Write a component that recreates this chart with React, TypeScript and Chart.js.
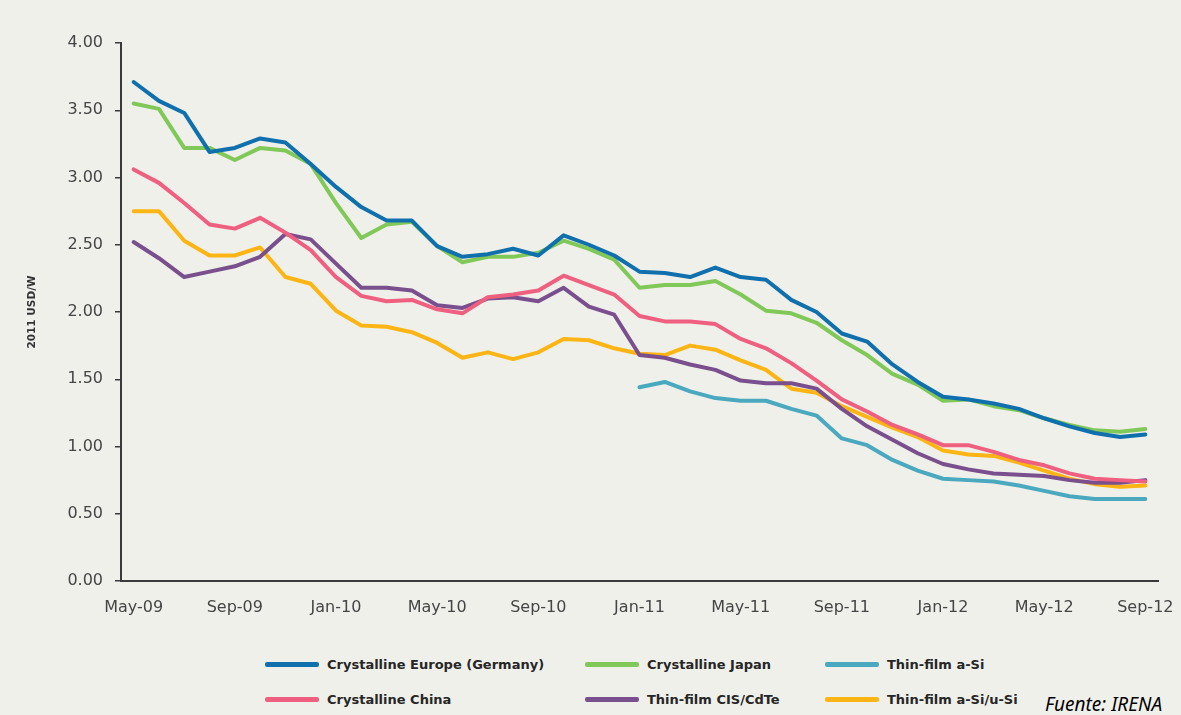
import React, { useEffect, useRef } from "react";
import { Chart, registerables } from "chart.js";

Chart.register(...registerables);

const months = [
  "May-09", "Jun-09", "Jul-09", "Aug-09", "Sep-09", "Oct-09", "Nov-09", "Dec-09",
  "Jan-10", "Feb-10", "Mar-10", "Apr-10", "May-10", "Jun-10", "Jul-10", "Aug-10",
  "Sep-10", "Oct-10", "Nov-10", "Dec-10", "Jan-11", "Feb-11", "Mar-11", "Apr-11",
  "May-11", "Jun-11", "Jul-11", "Aug-11", "Sep-11", "Oct-11", "Nov-11", "Dec-11",
  "Jan-12", "Feb-12", "Mar-12", "Apr-12", "May-12", "Jun-12", "Jul-12", "Aug-12", "Sep-12",
];

const crystallineEurope = [
  3.71, 3.57, 3.48, 3.19, 3.22, 3.29, 3.26, 3.10, 2.93, 2.78, 2.68, 2.68, 2.49, 2.41, 2.43, 2.47,
  2.42, 2.57, 2.50, 2.42, 2.30, 2.29, 2.26, 2.33, 2.26, 2.24, 2.09, 2.00, 1.84, 1.78, 1.61, 1.48,
  1.37, 1.35, 1.32, 1.28, 1.21, 1.15, 1.10, 1.07, 1.09,
];
const crystallineJapan = [
  3.55, 3.51, 3.22, 3.22, 3.13, 3.22, 3.20, 3.10, 2.81, 2.55, 2.65, 2.67, 2.49, 2.37, 2.41, 2.41,
  2.44, 2.53, 2.47, 2.39, 2.18, 2.20, 2.20, 2.23, 2.13, 2.01, 1.99, 1.92, 1.79, 1.68, 1.54, 1.46,
  1.34, 1.35, 1.30, 1.27, 1.21, 1.16, 1.12, 1.11, 1.13,
];
const thinFilmASi = [
  null, null, null, null, null, null, null, null, null, null, null, null, null, null, null, null,
  null, null, null, null, 1.44, 1.48, 1.41, 1.36, 1.34, 1.34, 1.28, 1.23, 1.06, 1.01, 0.90, 0.82,
  0.76, 0.75, 0.74, 0.71, 0.67, 0.63, 0.61, 0.61, 0.61,
];
const crystallineChina = [
  3.06, 2.96, 2.81, 2.65, 2.62, 2.70, 2.59, 2.46, 2.26, 2.12, 2.08, 2.09, 2.02, 1.99, 2.11, 2.13,
  2.16, 2.27, 2.20, 2.13, 1.97, 1.93, 1.93, 1.91, 1.80, 1.73, 1.62, 1.49, 1.35, 1.26, 1.16, 1.09,
  1.01, 1.01, 0.96, 0.90, 0.86, 0.80, 0.76, 0.75, 0.74,
];
const thinFilmCIS = [
  2.52, 2.40, 2.26, 2.30, 2.34, 2.41, 2.58, 2.54, 2.36, 2.18, 2.18, 2.16, 2.05, 2.03, 2.10, 2.11,
  2.08, 2.18, 2.04, 1.98, 1.68, 1.66, 1.61, 1.57, 1.49, 1.47, 1.47, 1.43, 1.28, 1.15, 1.05, 0.95,
  0.87, 0.83, 0.80, 0.79, 0.78, 0.75, 0.73, 0.73, 0.75,
];
const thinFilmASiUSi = [
  2.75, 2.75, 2.53, 2.42, 2.42, 2.48, 2.26, 2.21, 2.01, 1.90, 1.89, 1.85, 1.77, 1.66, 1.70, 1.65,
  1.70, 1.80, 1.79, 1.73, 1.69, 1.68, 1.75, 1.72, 1.64, 1.57, 1.43, 1.40, 1.30, 1.22, 1.14, 1.07,
  0.97, 0.94, 0.93, 0.88, 0.82, 0.76, 0.72, 0.70, 0.71,
];

const seriesLabels = [
  "Crystalline Europe (Germany)",
  "Crystalline Japan",
  "Thin-film a-Si",
  "Crystalline China",
  "Thin-film CIS/CdTe",
  "Thin-film a-Si/u-Si",
];
const seriesData = [crystallineEurope, crystallineJapan, thinFilmASi, crystallineChina, thinFilmCIS, thinFilmASiUSi];
const seriesColors = ["#1070ad", "#80c857", "#4aa9bf", "#ef5f7f", "#7a4f8d", "#fdb515"];

const yTitle = "2011 USD/W";
const sourceNote = "Fuente: IRENA";

const BG = "#f0f0eb";
const FONT = "DejaVu Sans";

export default function App() {
  const canvasRef = useRef<HTMLCanvasElement | null>(null);

  useEffect(() => {
    const canvas = canvasRef.current;
    if (!canvas) return;
    const chart = new Chart(canvas, {
      type: "line",
      data: {
        labels: months,
        datasets: seriesLabels.map((label, i) => ({
          label,
          data: seriesData[i],
          borderColor: seriesColors[i],
          backgroundColor: seriesColors[i],
          borderWidth: 4,
          pointRadius: 0,
          tension: 0,
          borderJoinStyle: "round" as const,
          borderCapStyle: "round" as const,
          spanGaps: false,
        })),
      },
      options: {
        responsive: false,
        animation: false,
        layout: { padding: { left: 0, right: 23, top: 43, bottom: 0 } },
        plugins: {
          legend: { display: false },
          tooltip: { enabled: false },
        },
        scales: {
          x: {
            type: "category",
            offset: true,
            grid: { display: false, drawTicks: false },
            border: { display: true, color: "#3a3a3a", width: 2 },
            ticks: {
              autoSkip: false,
              maxRotation: 0,
              minRotation: 0,
              padding: 17,
              color: "#454545",
              font: { family: FONT, size: 16 },
              callback: (_v: any, i: number) => (i % 4 === 0 ? months[i] : ""),
            },
            afterFit: (scale: any) => {
              scale.height = 39;
              scale.paddingLeft = 0;
              scale.paddingRight = 0;
            },
          },
          y: {
            min: 0,
            max: 4,
            grid: {
              display: true,
              drawOnChartArea: false,
              drawTicks: true,
              tickLength: 6,
              color: "#3a3a3a",
              lineWidth: 1.5,
            },
            border: { display: true, color: "#3a3a3a", width: 2 },
            ticks: {
              stepSize: 0.5,
              padding: 12,
              color: "#454545",
              font: { family: FONT, size: 16 },
              callback: (v: any) => Number(v).toFixed(2),
            },
            title: {
              display: true,
              text: yTitle,
              color: "#333",
              font: { family: FONT, size: 10.5, weight: "bold" },
              padding: { top: 26, bottom: 0 },
            },
            afterFit: (scale: any) => {
              scale.width = 121;
              scale.paddingTop = 0;
              scale.paddingBottom = 0;
            },
          },
        },
      },
    });
    return () => chart.destroy();
  }, []);

  const legendCols = [265, 585, 825];
  const legendRows = [664, 699];

  return (
    <div
      style={{
        position: "absolute",
        left: 0,
        top: 0,
        width: 1181,
        height: 715,
        background: BG,
        overflow: "hidden",
      }}
    >
      <canvas
        ref={canvasRef}
        width={1181}
        height={620}
        style={{ position: "absolute", left: 0, top: 0, width: 1181, height: 620 }}
      />
      {seriesLabels.map((label, i) => {
        const col = i % 3;
        const row = Math.floor(i / 3);
        const x = legendCols[col];
        const y = legendRows[row];
        return (
          <div
            key={label}
            style={{
              position: "absolute",
              left: x,
              top: y - 10,
              height: 20,
              display: "flex",
              alignItems: "center",
              whiteSpace: "nowrap",
            }}
          >
            <div style={{ width: 54, height: 5, background: seriesColors[i], borderRadius: 2 }} />
            <span
              style={{
                marginLeft: 8,
                fontFamily: FONT,
                fontSize: 13,
                fontWeight: 600,
                color: "#262626",
              }}
            >
              {label}
            </span>
          </div>
        );
      })}
      <div
        style={{
          position: "absolute",
          left: 1045,
          top: 693,
          fontFamily: "Noto Sans",
          fontStyle: "italic",
          fontSize: 19,
          lineHeight: "22px",
          color: "#000",
          whiteSpace: "nowrap",
        }}
      >
        {sourceNote}
      </div>
    </div>
  );
}
